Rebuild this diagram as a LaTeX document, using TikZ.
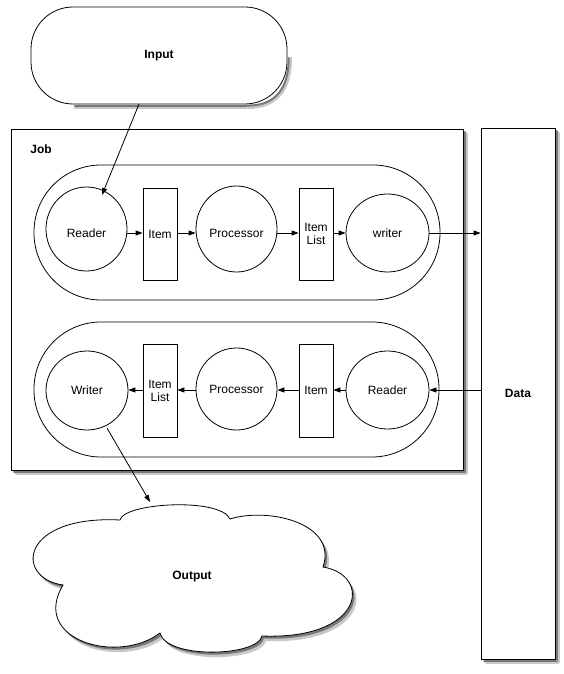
\documentclass[tikz,border=0pt]{standalone}
\usepackage{fontspec}
\setmainfont{Liberation Sans}
\usetikzlibrary{shapes.geometric,arrows.meta}
\definecolor{shadeA}{RGB}{200,200,200}
\definecolor{shadeC}{RGB}{120,120,120}
\tikzset{
  base/.style={draw=black, line width=0.8pt, fill=white},
  shA/.style={draw=shadeA, line width=3pt, line cap=round, line join=round},
  shC/.style={draw=shadeC, line width=2pt, line cap=round, line join=round},
  circ/.style={base, ellipse, inner sep=0pt, minimum width=82pt, minimum height=82pt},
  itembox/.style={base, rectangle, inner sep=0pt, minimum width=34pt, minimum height=92pt, align=center},
  stad/.style={base, rectangle, inner sep=0pt, fill=none},
  conn/.style={line width=0.8pt, -{Triangle[length=7pt,width=5pt]}},
}
\begin{document}
\begin{tikzpicture}[x=1pt,y=-1pt, font=\fontsize{12}{14}\selectfont]
\useasboundingbox (0,0) rectangle (563,674);
% Input
\node[base, rounded corners=42pt, minimum width=256pt, minimum height=97pt] (input) at (159,55.5) {\textbf{Input}};
% Data
\node[base, minimum width=74pt, minimum height=531pt] (data) at (518,393.5) {\textbf{Data}};
% Job
\node[base, minimum width=452pt, minimum height=341pt] (job) at (237,299.5) {};
\node (joblabel) at (41,149) {\textbf{Job}};
% shadow strips along the right and lower edges
\draw[shA] (466.5,134) -- (466.5,473.5) -- (16,473.5);
\draw[shC] (464.6,132) -- (464.6,471.6) -- (14,471.6);
\draw[shA] (558.5,133) -- (558.5,662.5) -- (486,662.5);
\draw[shC] (556.6,131) -- (556.6,660.6) -- (484,660.6);
\draw[shA] (247,107.5) -- (75,107.5);
\draw[shC] (247,105.6) -- (75,105.6);
\draw[shA] (248,107.5) .. controls (280,107.5) and (291,85) .. (290.5,58);
\draw[shC] (248,105.6) .. controls (278,105.6) and (289,85) .. (288.6,58);
% stadiums
\node[stad, rounded corners=67pt, minimum width=406pt, minimum height=135pt] (up) at (237,232.5) {};
\node[stad, rounded corners=67pt, minimum width=405pt, minimum height=135pt] (lo) at (236.5,389.5) {};
% upper row
\node[circ, minimum width=81pt, minimum height=84pt] (r1) at (86.5,229) {};
\node (r1t) at (86.5,233) {Reader};
\node[itembox] (i1) at (160,234) {Item};
\node[circ, minimum width=81pt, minimum height=86pt] (p1) at (236.5,229) {};
\node (p1t) at (236.5,233) {Processor};
\node[itembox] (l1) at (316,234) {Item\\[-1pt]List};
\node[circ, minimum width=83pt, minimum height=78pt] (w1) at (387.5,233) {writer};
% lower row
\node[circ, minimum width=82pt, minimum height=79pt] (w2) at (87,390.5) {Writer};
\node[itembox, minimum height=93pt] (l2) at (160,390.5) {Item\\[-1pt]List};
\node[circ, minimum width=81pt, minimum height=82pt] (p2) at (236.5,389) {Processor};
\node[itembox, minimum height=93pt] (i2) at (316,390.5) {Item};
\node[circ, minimum width=83pt, minimum height=78pt] (r2) at (387.5,390) {Reader};
% Output cloud shadow
\fill[shadeA] (124,525)
  .. controls (127,508) and (224,502) .. (234,524)
  .. controls (272,512) and (342,528) .. (327,572)
  .. controls (376,580) and (369,645) .. (266,641)
  .. controls (261,662) and (170,664) .. (164,638)
  .. controls (122,670) and (34,645) .. (67,590)
  .. controls (18,583) and (24,520) .. (124,525) -- cycle;
\fill[shadeC] (122,522.5)
  .. controls (125,505.5) and (222,499.5) .. (232,521.5)
  .. controls (270,509.5) and (340,525.5) .. (325,569.5)
  .. controls (374,577.5) and (367,642.5) .. (264,638.5)
  .. controls (259,659.5) and (168,661.5) .. (162,635.5)
  .. controls (120,667.5) and (32,642.5) .. (65,587.5)
  .. controls (16,580.5) and (22,517.5) .. (122,522.5) -- cycle;
% Output cloud
\path[base] (120,520)
  .. controls (123,503) and (220,497) .. (230,519)
  .. controls (268,507) and (338,523) .. (323,567)
  .. controls (372,575) and (365,640) .. (262,636)
  .. controls (257,657) and (166,659) .. (160,633)
  .. controls (118,665) and (30,640) .. (63,585)
  .. controls (14,578) and (20,515) .. (120,520) -- cycle;
\node (outt) at (192,577) {\textbf{Output}};
\coordinate (outtop) at (150,502);
\coordinate (inbot) at (139,104);
% connectors
\draw[conn] (inbot) -- (102,195);
\draw[conn] (r1.east |- 0,233) -- (i1.west |- 0,233);
\draw[conn] (i1.east |- 0,233) -- (p1.west |- 0,233);
\draw[conn] (p1.east |- 0,233) -- (l1.west |- 0,233);
\draw[conn] (l1.east |- 0,233) -- (w1.west |- 0,233);
\draw[conn] (w1.east) -- (data.west |- w1.east);
\draw[conn] (data.west |- r2.east) -- (r2.east);
\draw[conn] (r2.west) -- (i2.east |- r2.west);
\draw[conn] (i2.west |- 0,390) -- (p2.east |- 0,390);
\draw[conn] (p2.west |- 0,390) -- (l2.east |- 0,390);
\draw[conn] (l2.west |- 0,390) -- (w2.east |- 0,390);
\draw[conn] (107,428) -- (outtop);
\end{tikzpicture}
\end{document}
